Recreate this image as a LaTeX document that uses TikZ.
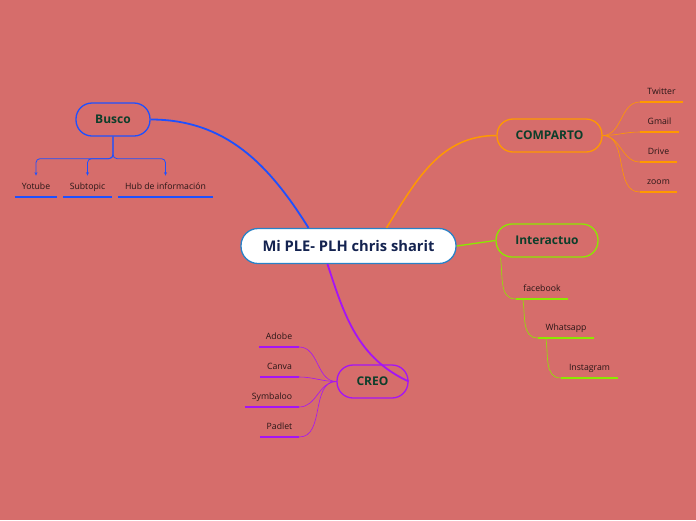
\documentclass[tikz,border=0pt]{standalone}
\usepackage{fontspec}
\setmainfont{Open Sans}
\usetikzlibrary{arrows.meta}

\definecolor{fondo}{RGB}{214,109,107}
\definecolor{azul}{RGB}{30,80,255}
\definecolor{naranja}{RGB}{255,153,0}
\definecolor{verde}{RGB}{140,232,0}
\definecolor{morado}{RGB}{165,20,245}
\definecolor{borde}{RGB}{40,130,200}
\definecolor{textoverde}{RGB}{12,62,42}
\definecolor{textoazul}{RGB}{20,35,80}
\definecolor{textohoja}{RGB}{40,22,22}

\begin{document}
\begin{tikzpicture}[x=1pt, y=-1pt,
    tema/.style={rounded corners=16pt, draw, line width=1.3pt, minimum height=33pt,
      font=\bfseries\fontsize{12}{14}\selectfont, text=textoverde},
    hoja/.style={anchor=south, inner xsep=0pt, inner ysep=5pt, text height=7pt, text depth=2pt,
      font=\fontsize{8.7}{10}\selectfont, text=textohoja},
    raya/.style={line width=2.4pt},
    rama/.style={line width=0.6pt}]
    \fill[fondo] (0,0) rectangle (696,520);

    % nodo central
    \node[rounded corners=17pt, draw=borde, fill=white, line width=1.3pt, minimum width=215pt,
      minimum height=35pt, font=\bfseries\fontsize{14.7}{17}\selectfont, text=textoazul]
      (ple) at (348.5,246) {Mi PLE- PLH chris sharit};

    % temas
    \node[tema, draw=azul, minimum width=74pt] (busco) at (113,119.5) {Busco};
    \node[tema, draw=naranja, minimum width=105pt] (comparto) at (549.5,135.5) {COMPARTO};
    \node[tema, draw=verde, minimum width=102pt] (interactuo) at (547,240.5) {Interactuo};
    \node[tema, draw=morado, minimum width=71pt] (creo) at (372.5,381.5) {CREO};

    \draw[azul, line width=1.8pt] (busco.east) to[out=0, in=122] ([xshift=-40pt]ple.north);
    \draw[naranja, line width=1.5pt] ([xshift=38pt]ple.north) to[out=58, in=180] (comparto.west);
    \draw[verde, line width=1.3pt] (ple.east) -- (interactuo.west);
    \draw[morado, line width=1.8pt] ([xshift=-21pt]ple.south) to[out=-72, in=155] (creo.east);

    % Busco
    \node[hoja, minimum width=42pt] (yotube) at (36,197) {Yotube};
    \node[hoja, minimum width=49pt] (subtopic) at (87.5,197) {Subtopic};
    \node[hoja, minimum width=95pt] (hub) at (165.5,197) {Hub de información};
    \foreach \h in {yotube, subtopic, hub} {
      \draw[azul, raya] (\h.south west) -- (\h.south east);
    }
    \draw[azul, line width=0.8pt, rounded corners=4pt, -{Stealth[length=3.5pt, width=3pt]}]
      (busco.south) -- ++(0,22) -| ([yshift=2pt]yotube.north);
    \draw[azul, line width=0.8pt, rounded corners=4pt, -{Stealth[length=3.5pt, width=3pt]}]
      (busco.south) -- ++(0,22) -| ([yshift=2pt]subtopic.north);
    \draw[azul, line width=0.8pt, rounded corners=4pt, -{Stealth[length=3.5pt, width=3pt]}]
      (busco.south) -- ++(0,22) -| ([yshift=2pt]hub.north);

    % COMPARTO
    \node[hoja, minimum width=43pt] (twitter) at (661.5,102) {Twitter};
    \node[hoja, minimum width=39pt] (gmail) at (659.5,132) {Gmail};
    \node[hoja, minimum width=37pt] (drive) at (658.5,162) {Drive};
    \node[hoja, minimum width=37pt] (zoom) at (658.5,192) {zoom};
    \foreach \h in {twitter, gmail, drive, zoom} {
      \draw[naranja, raya] (\h.south west) -- (\h.south east);
      \draw[naranja, rama] (comparto.east) to[out=0, in=180] (\h.south west);
    }

    % Interactuo
    \node[hoja, minimum width=52pt] (facebook) at (542,299) {facebook};
    \node[hoja, minimum width=56pt] (whatsapp) at (566,338) {Whatsapp};
    \node[hoja, minimum width=57pt] (instagram) at (589.5,378) {Instagram};
    \foreach \h in {facebook, whatsapp, instagram} {
      \draw[verde, raya] (\h.south west) -- (\h.south east);
    }
    \draw[verde, rama] ([xshift=5pt]interactuo.south west) to[out=-80, in=180] (facebook.south west);
    \draw[verde, rama] ([xshift=7pt]facebook.south west) to[out=-80, in=180] (whatsapp.south west);
    \draw[verde, rama] ([xshift=8pt]whatsapp.south west) to[out=-80, in=180] (instagram.south west);

    % CREO
    \node[hoja, minimum width=40pt] (adobe) at (279,347) {Adobe};
    \node[hoja, minimum width=39pt] (canva) at (279.5,377) {Canva};
    \node[hoja, minimum width=54pt] (symbaloo) at (272,407) {Symbaloo};
    \node[hoja, minimum width=39pt] (padlet) at (279.5,437) {Padlet};
    \foreach \h in {adobe, canva, symbaloo, padlet} {
      \draw[morado, raya] (\h.south west) -- (\h.south east);
      \draw[morado, rama] (creo.west) to[out=180, in=0] (\h.south east);
    }
\end{tikzpicture}
\end{document}
